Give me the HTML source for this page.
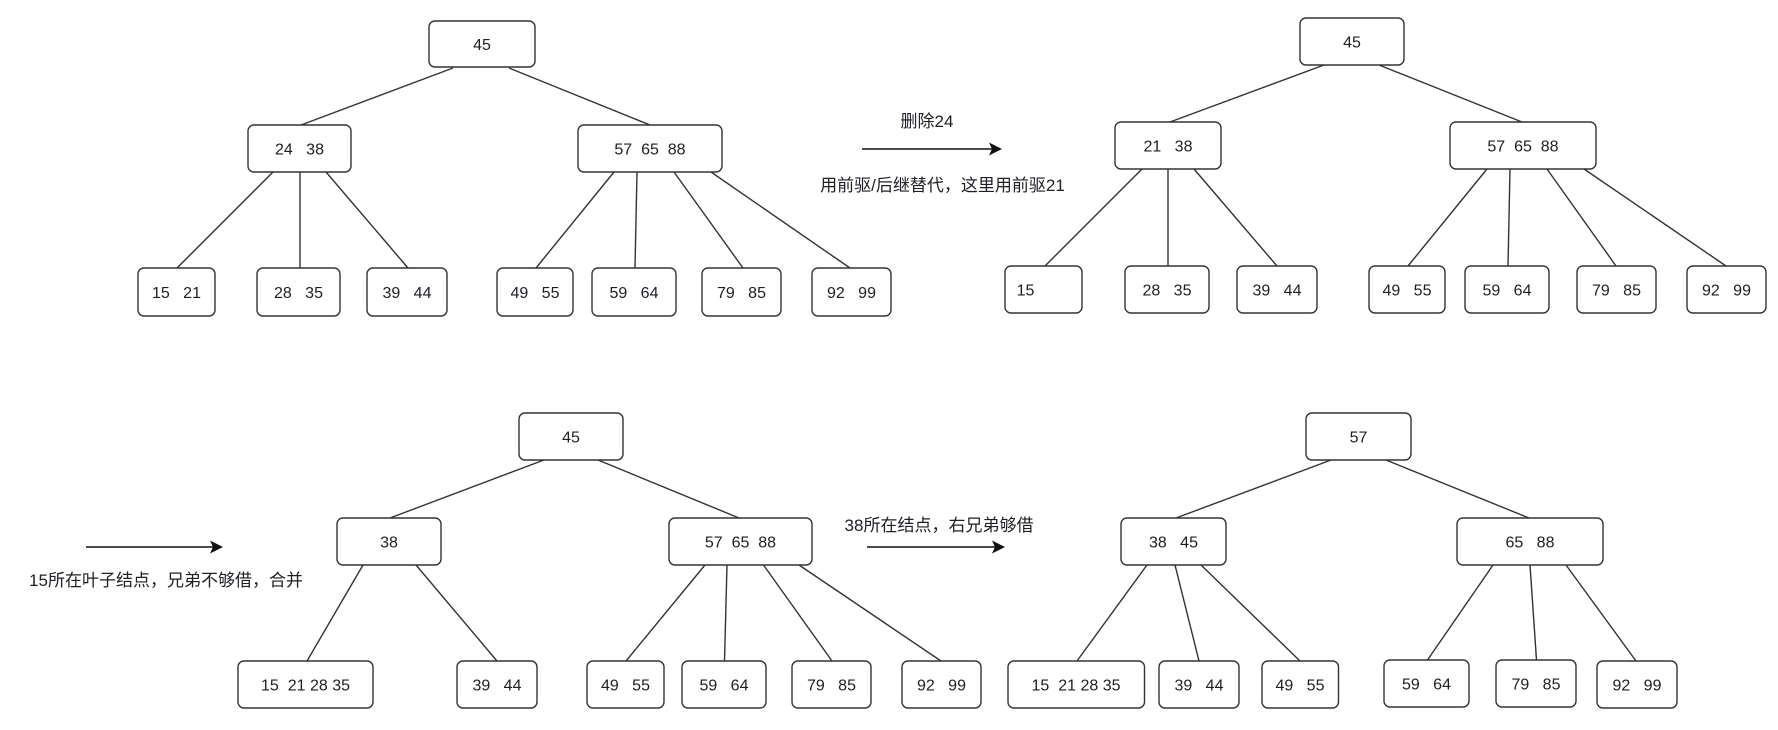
<!DOCTYPE html>
<html>
<head>
<meta charset="utf-8">
<style>
  html, body { margin:0; padding:0; background:#ffffff; }
  body { width:1778px; height:730px; overflow:hidden; }
  svg { display:block; }
  .b { fill:#ffffff; stroke:#333333; stroke-width:1.4; }
  .l { stroke:#333333; stroke-width:1.4; fill:none; }
  .t { font-family:"Liberation Sans", Arial, sans-serif; font-size:16px; fill:#1e1e24; text-anchor:middle; white-space:pre; }
  .c { font-family:"Liberation Sans", "Noto Sans CJK SC", sans-serif; font-size:17px; fill:#1e1e24; text-anchor:middle; white-space:pre; }
</style>
</head>
<body>
<svg width="1778" height="730" viewBox="0 0 1778 730" xmlns="http://www.w3.org/2000/svg">

<!-- ================= Tree 1 ================= -->
<g>
  <line class="l" x1="453" y1="68" x2="301" y2="125"/>
  <line class="l" x1="509" y1="68" x2="650" y2="125"/>
  <line class="l" x1="273" y1="172" x2="177" y2="268"/>
  <line class="l" x1="300" y1="172" x2="300" y2="268"/>
  <line class="l" x1="326" y1="172" x2="408" y2="268"/>
  <line class="l" x1="614" y1="172" x2="536" y2="268"/>
  <line class="l" x1="637" y1="172" x2="635" y2="268"/>
  <line class="l" x1="674" y1="172" x2="743" y2="268"/>
  <line class="l" x1="711" y1="172" x2="850" y2="268"/>

  <rect class="b" x="429" y="21" width="106" height="46" rx="6"/>
  <text class="t" x="482" y="50">45</text>

  <rect class="b" x="248" y="125" width="103" height="47" rx="6"/>
  <text class="t" x="299.5" y="154.5" xml:space="preserve">24   38</text>

  <rect class="b" x="578" y="125" width="144" height="47" rx="6"/>
  <text class="t" x="650" y="154.5" xml:space="preserve">57  65  88</text>

  <rect class="b" x="138" y="268" width="77" height="48" rx="6"/>
  <text class="t" x="176.5" y="298" xml:space="preserve">15   21</text>
  <rect class="b" x="257" y="268" width="83" height="48" rx="6"/>
  <text class="t" x="298.5" y="298" xml:space="preserve">28   35</text>
  <rect class="b" x="367" y="268" width="80" height="48" rx="6"/>
  <text class="t" x="407" y="298" xml:space="preserve">39   44</text>
  <rect class="b" x="497" y="268" width="76" height="48" rx="6"/>
  <text class="t" x="535" y="298" xml:space="preserve">49   55</text>
  <rect class="b" x="592" y="268" width="84" height="48" rx="6"/>
  <text class="t" x="634" y="298" xml:space="preserve">59   64</text>
  <rect class="b" x="702" y="268" width="79" height="48" rx="6"/>
  <text class="t" x="741.5" y="298" xml:space="preserve">79   85</text>
  <rect class="b" x="812" y="268" width="79" height="48" rx="6"/>
  <text class="t" x="851.5" y="298" xml:space="preserve">92   99</text>
</g>

<!-- Arrow 1 -->
<g>
  <text class="c" x="927" y="127">删除24</text>
  <line x1="862" y1="149" x2="993" y2="149" stroke="#111" stroke-width="1.5"/>
  <polygon points="1002,149 989,142.5 992,149 989,155.5" fill="#111"/>
  <text class="c" x="942.5" y="191">用前驱/后继替代，这里用前驱21</text>
</g>

<!-- ================= Tree 2 ================= -->
<g>
  <line class="l" x1="1324" y1="65" x2="1170" y2="122"/>
  <line class="l" x1="1379" y1="65" x2="1522" y2="122"/>
  <line class="l" x1="1142" y1="169" x2="1045" y2="266"/>
  <line class="l" x1="1168" y1="169" x2="1168" y2="266"/>
  <line class="l" x1="1194" y1="169" x2="1277" y2="266"/>
  <line class="l" x1="1487" y1="169" x2="1408" y2="266"/>
  <line class="l" x1="1510" y1="169" x2="1508" y2="266"/>
  <line class="l" x1="1547" y1="169" x2="1616" y2="266"/>
  <line class="l" x1="1584" y1="169" x2="1726" y2="266"/>

  <rect class="b" x="1300" y="18" width="104" height="47" rx="6"/>
  <text class="t" x="1352" y="47.5">45</text>

  <rect class="b" x="1115" y="122" width="106" height="47" rx="6"/>
  <text class="t" x="1168" y="151.5" xml:space="preserve">21   38</text>

  <rect class="b" x="1450" y="122" width="146" height="47" rx="6"/>
  <text class="t" x="1523" y="151.5" xml:space="preserve">57  65  88</text>

  <rect class="b" x="1005" y="266" width="77" height="47" rx="6"/>
  <text class="t" x="1025.5" y="295.5">15</text>
  <rect class="b" x="1125" y="266" width="84" height="47" rx="6"/>
  <text class="t" x="1167" y="295.5" xml:space="preserve">28   35</text>
  <rect class="b" x="1237" y="266" width="80" height="47" rx="6"/>
  <text class="t" x="1277" y="295.5" xml:space="preserve">39   44</text>
  <rect class="b" x="1369" y="266" width="76" height="47" rx="6"/>
  <text class="t" x="1407" y="295.5" xml:space="preserve">49   55</text>
  <rect class="b" x="1465" y="266" width="84" height="47" rx="6"/>
  <text class="t" x="1507" y="295.5" xml:space="preserve">59   64</text>
  <rect class="b" x="1577" y="266" width="79" height="47" rx="6"/>
  <text class="t" x="1616.5" y="295.5" xml:space="preserve">79   85</text>
  <rect class="b" x="1687" y="266" width="79" height="47" rx="6"/>
  <text class="t" x="1726.5" y="295.5" xml:space="preserve">92   99</text>
</g>

<!-- Arrow 3 (bottom left) -->
<g>
  <line x1="86" y1="547" x2="214" y2="547" stroke="#111" stroke-width="1.5"/>
  <polygon points="223,547 210,540.5 213,547 210,553.5" fill="#111"/>
  <text class="c" x="166" y="586">15所在叶子结点，兄弟不够借，合并</text>
</g>

<!-- ================= Tree 3 ================= -->
<g>
  <line class="l" x1="544" y1="460" x2="390" y2="518"/>
  <line class="l" x1="598" y1="460" x2="739" y2="518"/>
  <line class="l" x1="363" y1="565" x2="307" y2="661"/>
  <line class="l" x1="416" y1="565" x2="497" y2="661"/>
  <line class="l" x1="705" y1="565" x2="626" y2="661"/>
  <line class="l" x1="727" y1="565" x2="724.5" y2="661"/>
  <line class="l" x1="763.5" y1="565" x2="832" y2="661"/>
  <line class="l" x1="799" y1="565" x2="941" y2="661"/>

  <rect class="b" x="519" y="413" width="104" height="47" rx="6"/>
  <text class="t" x="571" y="442.5">45</text>

  <rect class="b" x="337" y="518" width="104" height="47" rx="6"/>
  <text class="t" x="389" y="547.5">38</text>

  <rect class="b" x="669" y="518" width="143" height="47" rx="6"/>
  <text class="t" x="740.5" y="547.5" xml:space="preserve">57  65  88</text>

  <rect class="b" x="238" y="661" width="135" height="47" rx="6"/>
  <text class="t" x="305.5" y="690.5" xml:space="preserve">15  21 28 35</text>
  <rect class="b" x="457" y="661" width="80" height="47" rx="6"/>
  <text class="t" x="497" y="690.5" xml:space="preserve">39   44</text>
  <rect class="b" x="587" y="661" width="77" height="47" rx="6"/>
  <text class="t" x="625.5" y="690.5" xml:space="preserve">49   55</text>
  <rect class="b" x="682" y="661" width="84" height="47" rx="6"/>
  <text class="t" x="724" y="690.5" xml:space="preserve">59   64</text>
  <rect class="b" x="792" y="661" width="79" height="47" rx="6"/>
  <text class="t" x="831.5" y="690.5" xml:space="preserve">79   85</text>
  <rect class="b" x="902" y="661" width="79" height="47" rx="6"/>
  <text class="t" x="941.5" y="690.5" xml:space="preserve">92   99</text>
</g>

<!-- Arrow 2 (bottom middle) -->
<g>
  <text class="c" x="939" y="531">38所在结点，右兄弟够借</text>
  <line x1="867" y1="547" x2="996" y2="547" stroke="#111" stroke-width="1.5"/>
  <polygon points="1005,547 992,540.5 995,547 992,553.5" fill="#111"/>
</g>

<!-- ================= Tree 4 ================= -->
<g>
  <line class="l" x1="1331" y1="460" x2="1176" y2="518"/>
  <line class="l" x1="1386" y1="460" x2="1529" y2="518"/>
  <line class="l" x1="1147" y1="565" x2="1077" y2="661"/>
  <line class="l" x1="1175" y1="565" x2="1199" y2="661"/>
  <line class="l" x1="1201" y1="565" x2="1300" y2="661"/>
  <line class="l" x1="1493" y1="565" x2="1427.5" y2="660"/>
  <line class="l" x1="1530" y1="565" x2="1536.5" y2="660"/>
  <line class="l" x1="1566" y1="565" x2="1636" y2="661"/>

  <rect class="b" x="1306" y="413" width="105" height="47" rx="6"/>
  <text class="t" x="1358.5" y="442.5">57</text>

  <rect class="b" x="1121" y="518" width="105" height="47" rx="6"/>
  <text class="t" x="1173.5" y="547.5" xml:space="preserve">38   45</text>

  <rect class="b" x="1457" y="518" width="146" height="47" rx="6"/>
  <text class="t" x="1530" y="547.5" xml:space="preserve">65   88</text>

  <rect class="b" x="1008" y="661" width="136.5" height="47" rx="6"/>
  <text class="t" x="1076" y="690.5" xml:space="preserve">15  21 28 35</text>
  <rect class="b" x="1159" y="661" width="80" height="47" rx="6"/>
  <text class="t" x="1199" y="690.5" xml:space="preserve">39   44</text>
  <rect class="b" x="1262" y="661" width="76.5" height="47" rx="6"/>
  <text class="t" x="1300" y="690.5" xml:space="preserve">49   55</text>
  <rect class="b" x="1384" y="660" width="85" height="47" rx="6"/>
  <text class="t" x="1426.5" y="689.5" xml:space="preserve">59   64</text>
  <rect class="b" x="1496" y="660" width="80" height="47" rx="6"/>
  <text class="t" x="1536" y="689.5" xml:space="preserve">79   85</text>
  <rect class="b" x="1597" y="661" width="80" height="47" rx="6"/>
  <text class="t" x="1637" y="690.5" xml:space="preserve">92   99</text>
</g>

</svg>
</body>
</html>
